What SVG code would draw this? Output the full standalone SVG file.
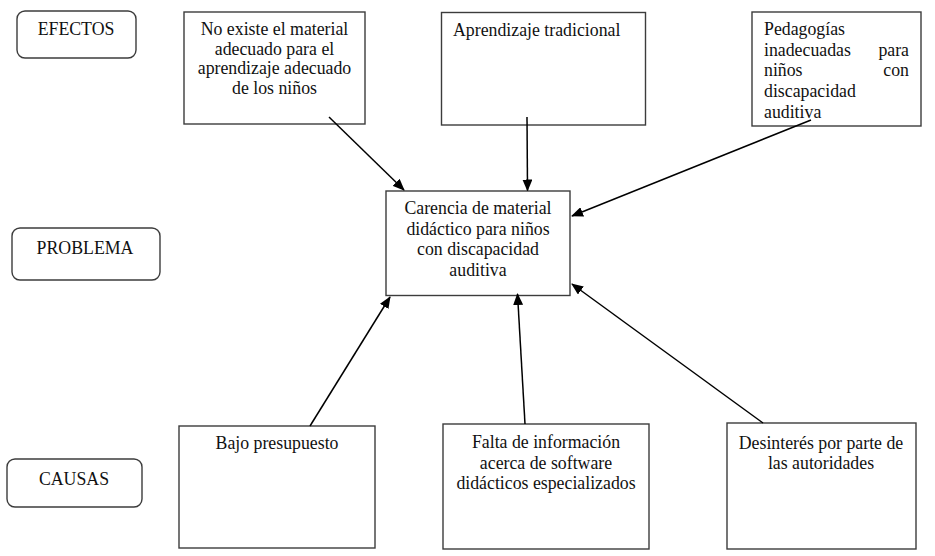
<svg xmlns="http://www.w3.org/2000/svg" width="935" height="556" viewBox="0 0 935 556">
<style>
.box{fill:#fff;stroke:#3c3c3c;stroke-width:1.4}
.lbl{fill:#fff;stroke:#3c3c3c;stroke-width:1.4}
text{font-family:"Liberation Serif","Times New Roman",serif;font-size:17.8px;fill:#111}
.c{text-anchor:middle}
.e{text-anchor:end}
.con{stroke:#000;stroke-width:1.5;fill:none;marker-end:url(#ah)}
</style>
<defs>
<marker id="ah" markerWidth="12" markerHeight="10" refX="11" refY="5" orient="auto" markerUnits="userSpaceOnUse">
<path d="M0,0 L12,5 L0,10 z" fill="#000"/>
</marker>
</defs>
<rect width="935" height="556" fill="#fff"/>
<g id="efectos">
<rect class="lbl" x="17" y="11" width="119" height="47" rx="8"/>
<text class="c" x="76" y="35">EFECTOS</text>
</g>
<g id="problema-label">
<rect class="lbl" x="12" y="228" width="148" height="52" rx="8"/>
<text class="c" x="85" y="254">PROBLEMA</text>
</g>
<g id="causas">
<rect class="lbl" x="7" y="459" width="135" height="48" rx="8"/>
<text class="c" x="74" y="485">CAUSAS</text>
</g>
<g id="efecto1">
<rect class="box" x="184" y="12" width="181" height="112"/>
<text class="c" x="274.5" y="35">No existe el material</text>
<text class="c" x="274.5" y="54.5">adecuado para el</text>
<text class="c" x="274.5" y="74">aprendizaje adecuado</text>
<text class="c" x="274.5" y="93.5">de los niños</text>
</g>
<g id="efecto2">
<rect class="box" x="441.5" y="12.5" width="204" height="112.5"/>
<text x="453" y="36">Aprendizaje tradicional</text>
</g>
<g id="efecto3">
<rect class="box" x="752" y="12" width="169" height="114"/>
<text x="764" y="35">Pedagogías</text>
<text x="764" y="55.7">inadecuadas</text>
<text class="e" x="909" y="55.7">para</text>
<text x="764" y="76.4">niños</text>
<text class="e" x="909" y="76.4">con</text>
<text x="764" y="97">discapacidad</text>
<text x="764" y="117.5">auditiva</text>
</g>
<g id="problema">
<rect class="box" x="386" y="191" width="184" height="104.5"/>
<text class="c" x="478" y="214">Carencia de material</text>
<text class="c" x="478" y="234.7">didáctico para niños</text>
<text class="c" x="478" y="255.4">con discapacidad</text>
<text class="c" x="478" y="276.3">auditiva</text>
</g>
<g id="causa1">
<rect class="box" x="179" y="426" width="196" height="122"/>
<text class="c" x="277" y="449">Bajo presupuesto</text>
</g>
<g id="causa2">
<rect class="box" x="443" y="424" width="206" height="125"/>
<text class="c" x="546" y="448">Falta de información</text>
<text class="c" x="546" y="468.5">acerca de software</text>
<text class="c" x="546" y="489">didácticos especializados</text>
</g>
<g id="causa3">
<rect class="box" x="727" y="423" width="189" height="126"/>
<text class="c" x="821" y="449">Desinterés por parte de</text>
<text class="c" x="821" y="469">las autoridades</text>
</g>
<g id="connectors">
<line class="con" x1="329" y1="117" x2="404" y2="190"/>
<line class="con" x1="527" y1="117" x2="527.5" y2="190.5"/>
<line class="con" x1="811" y1="120" x2="572" y2="216"/>
<line class="con" x1="310" y1="426" x2="390" y2="297"/>
<line class="con" x1="525" y1="424" x2="517.5" y2="294"/>
<line class="con" x1="763" y1="423" x2="572" y2="284"/>
</g>
</svg>
